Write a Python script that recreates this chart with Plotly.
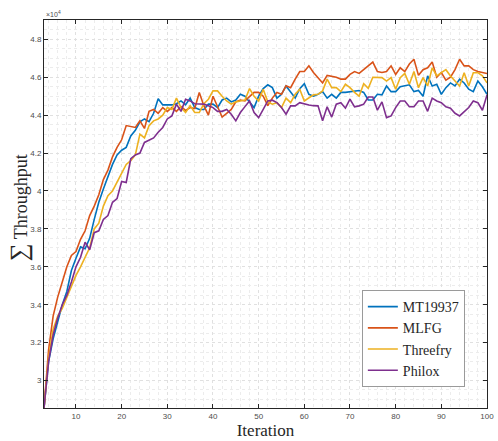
import plotly.graph_objects as go

iterations = list(range(3, 101))

mt19937 = [2.855, 3.10, 3.22, 3.31, 3.40, 3.47, 3.58, 3.645, 3.705, 3.695,
           3.75, 3.85, 3.94, 4.01, 4.08, 4.14, 4.19, 4.215, 4.23, 4.29,
           4.32, 4.365, 4.38, 4.366, 4.41, 4.487, 4.454, 4.454, 4.454, 4.46,
           4.475, 4.455, 4.49, 4.44, 4.43, 4.43, 4.458, 4.458, 4.44, 4.48,
           4.49, 4.47, 4.48, 4.51, 4.50, 4.47, 4.44, 4.50, 4.54, 4.56,
           4.545, 4.49, 4.51, 4.554, 4.52, 4.49, 4.54, 4.566, 4.51, 4.50,
           4.51, 4.524, 4.49, 4.51, 4.49, 4.52, 4.52, 4.524, 4.527, 4.53,
           4.52, 4.48, 4.48, 4.51, 4.507, 4.554, 4.524, 4.524, 4.55, 4.554,
           4.56, 4.524, 4.53, 4.50, 4.607, 4.554, 4.563, 4.51, 4.545, 4.57,
           4.554, 4.59, 4.57, 4.537, 4.524, 4.58, 4.55, 4.51]

mlfg = [2.855, 3.16, 3.34, 3.44, 3.52, 3.60, 3.66, 3.68, 3.745, 3.79,
        3.87, 3.92, 3.98, 4.06, 4.11, 4.18, 4.23, 4.27, 4.345, 4.34,
        4.335, 4.37, 4.33, 4.42, 4.43, 4.41, 4.44, 4.42, 4.44, 4.42,
        4.445, 4.425, 4.44, 4.435, 4.52, 4.45, 4.40, 4.50, 4.44, 4.39,
        4.41, 4.43, 4.47, 4.48, 4.475, 4.50, 4.52, 4.52, 4.50, 4.45,
        4.49, 4.52, 4.51, 4.555, 4.545, 4.59, 4.63, 4.63, 4.66, 4.625,
        4.60, 4.57, 4.61, 4.605, 4.60, 4.59, 4.59, 4.615, 4.63, 4.62,
        4.64, 4.66, 4.68, 4.63, 4.625, 4.63, 4.66, 4.615, 4.65, 4.63,
        4.67, 4.695, 4.61, 4.64, 4.65, 4.68, 4.60, 4.625, 4.585, 4.60,
        4.64, 4.695, 4.66, 4.66, 4.64, 4.63, 4.625, 4.62]

threefry = [2.855, 3.12, 3.27, 3.34, 3.38, 3.44, 3.50, 3.555, 3.60, 3.65,
            3.70, 3.80, 3.83, 3.92, 3.975, 4.00, 4.045, 4.09, 4.14, 4.16,
            4.19, 4.30, 4.28, 4.344, 4.37, 4.38, 4.40, 4.44, 4.43, 4.49,
            4.44, 4.414, 4.45, 4.414, 4.414, 4.46, 4.484, 4.528, 4.528, 4.50,
            4.475, 4.458, 4.47, 4.475, 4.48, 4.54, 4.50, 4.475, 4.537, 4.47,
            4.458, 4.466, 4.44, 4.49, 4.466, 4.51, 4.537, 4.475, 4.49, 4.507,
            4.51, 4.528, 4.59, 4.545, 4.545, 4.524, 4.563, 4.545, 4.52, 4.50,
            4.566, 4.542, 4.60, 4.60, 4.598, 4.58, 4.598, 4.537, 4.598, 4.62,
            4.563, 4.63, 4.545, 4.598, 4.554, 4.65, 4.607, 4.624, 4.64, 4.607,
            4.58, 4.554, 4.624, 4.554, 4.624, 4.624, 4.607, 4.57]

philox = [2.855, 3.10, 3.24, 3.33, 3.40, 3.45, 3.52, 3.60, 3.65, 3.73,
          3.69, 3.78, 3.79, 3.85, 3.87, 3.94, 3.96, 4.05, 4.045, 4.17,
          4.19, 4.20, 4.256, 4.27, 4.28, 4.31, 4.335, 4.38, 4.396, 4.458,
          4.42, 4.484, 4.475, 4.46, 4.458, 4.458, 4.45, 4.44, 4.42, 4.42,
          4.43, 4.405, 4.37, 4.414, 4.445, 4.475, 4.414, 4.387, 4.43, 4.475,
          4.479, 4.466, 4.44, 4.405, 4.449, 4.449, 4.466, 4.458, 4.454, 4.45,
          4.449, 4.37, 4.444, 4.39, 4.458, 4.466, 4.437, 4.484, 4.444, 4.449,
          4.458, 4.496, 4.496, 4.426, 4.47, 4.387, 4.396, 4.44, 4.475, 4.475,
          4.444, 4.444, 4.475, 4.475, 4.42, 4.49, 4.475, 4.466, 4.444, 4.437,
          4.41, 4.396, 4.42, 4.44, 4.475, 4.466, 4.426, 4.507]

series_names = ["MT19937", "MLFG", "Threefry", "Philox"]
series_values = [mt19937, mlfg, threefry, philox]
colors = ["#0072BD", "#D95319", "#EDB120", "#7E2F8E"]

x_tickvals = [10, 20, 30, 40, 50, 60, 70, 80, 90, 100]
y_tickvals = [3.0, 3.2, 3.4, 3.6, 3.8, 4.0, 4.2, 4.4, 4.6, 4.8]
y_ticktext = ["3", "3.2", "3.4", "3.6", "3.8", "4", "4.2", "4.4", "4.6", "4.8"]

fig = go.Figure()
for name, vals, col in zip(series_names, series_values, colors):
    fig.add_trace(go.Scatter(x=iterations, y=vals, mode="lines", name=name,
                             line=dict(color=col, width=1.6)))

axis_common = dict(
    showline=True, linecolor="#262626", linewidth=1, mirror="ticks",
    ticks="inside", ticklen=4, tickcolor="#262626",
    showgrid=True, gridcolor="#e0e0e0", griddash="dot", gridwidth=1,
    zeroline=False, ticklabeloverflow="allow",
    tickfont=dict(family="Liberation Sans, Arial", size=8, color="#4d4d4d"),
)

fig.update_xaxes(range=[3, 100], tickvals=x_tickvals,
                 minor=dict(dtick=2, showgrid=True, gridcolor="#ececec", griddash="dot", ticks=""),
                 title=dict(text="Iteration", font=dict(family="Liberation Serif, Times New Roman, serif", size=17, color="#262626"), standoff=3),
                 **axis_common)
fig.update_yaxes(range=[2.855, 4.902], tickvals=y_tickvals, ticktext=y_ticktext,
                 minor=dict(dtick=0.05, tick0=0, showgrid=True, gridcolor="#ececec", griddash="dot", ticks=""),
                 **axis_common)

fig.add_annotation(text="<span style='font-size:25px'>∑</span> Throughput",
                   xref="paper", yref="paper", x=0, y=0.515, xshift=-25,
                   xanchor="center", yanchor="middle", textangle=-90, showarrow=False,
                   font=dict(family="Liberation Serif, Times New Roman, serif", size=18, color="#262626"))
fig.add_annotation(text="×10<sup>4</sup>", xref="paper", yref="paper", x=0, y=1,
                   xanchor="left", yanchor="bottom", showarrow=False, yshift=0,
                   font=dict(family="Liberation Sans, Arial", size=7, color="#4d4d4d"))

fig.update_layout(
    width=498, height=441,
    margin=dict(l=44, r=4, t=20, b=33),
    paper_bgcolor="white", plot_bgcolor="white",
    showlegend=True,
    legend=dict(x=0.95, y=0.054, xanchor="right", yanchor="bottom",
                bgcolor="white", bordercolor="#9a9a9a", borderwidth=1,
                font=dict(family="Liberation Serif, Times New Roman, serif", size=14, color="#262626"),
                itemwidth=30, tracegroupgap=0),
)

fig.write_html("out.html", config={"displayModeBar": False},
               post_script="document.body.style.margin='0';document.body.style.overflow='hidden';")
